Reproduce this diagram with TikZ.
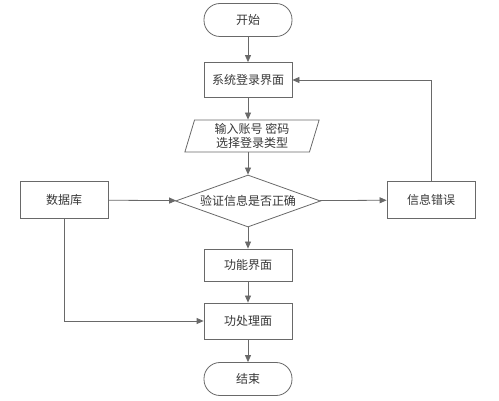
\documentclass[tikz,border=0pt]{standalone}
\usepackage{fontspec}
\newfontfamily\cjk{Noto Sans CJK SC}[Scale=1]
\definecolor{linegray}{RGB}{105, 105, 105}
\definecolor{textgray}{RGB}{55, 55, 55}
\usetikzlibrary{shapes.geometric, arrows.meta, positioning}
\tikzset{
  flowbox/.style={draw=linegray, thick, minimum width=88pt, minimum height=35pt, inner sep=2pt, text=textgray, font=\cjk\fontsize{12}{16}\selectfont},
  termbox/.style={flowbox, rounded corners=16pt, minimum height=33pt},
  iobox/.style={flowbox, trapezium, trapezium left angle=76, trapezium right angle=104, trapezium stretches=true, minimum width=135pt, minimum height=32pt, inner sep=0pt, align=center},
  decbox/.style={flowbox, diamond, aspect=2.8, minimum width=145pt, minimum height=52pt, inner sep=0pt},
  flow/.style={draw=linegray, thick, -{Triangle[length=7pt, width=6pt]}}
}

\begin{document}
\begin{tikzpicture}[x=1pt, y=-1pt]
  \useasboundingbox (0,0) rectangle (499,401);

  % Main column
  \node[termbox] (start) at (248, 20) {开始};
  \node[flowbox] (login) at (248, 80) {系统登录界面};
  \node[iobox] (input) at (252, 136) {输入账号 密码\\[-2pt]选择登录类型};
  \node[decbox] (check) at (248, 201) {验证信息是否正确};
  \node[flowbox, minimum height=32pt] (func) at (248, 265) {功能界面};
  \node[flowbox, minimum height=36pt] (proc) at (248, 321) {功处理面};
  \node[termbox] (stop) at (248, 379) {结束};

  % Side boxes
  \node[flowbox, minimum height=37pt] (db) at (64, 200) {数据库};
  \node[flowbox, minimum height=37pt] (err) at (431, 200) {信息错误};

  % Connectors
  \draw[flow] (start) -- (login);
  \draw[flow] (login) -- (login |- input.north);
  \draw[flow] (input.south -| check) -- (check);
  \draw[flow] (check) -- (func);
  \draw[flow] (func) -- (proc);
  \draw[flow] (proc) -- (stop);
  \draw[flow] (db) -- (check);
  \draw[flow] (check) -- (err);
  \draw[flow] (err.north) |- (login.east);
  \draw[flow] (db.south) |- (proc.west);
\end{tikzpicture}
\end{document}
